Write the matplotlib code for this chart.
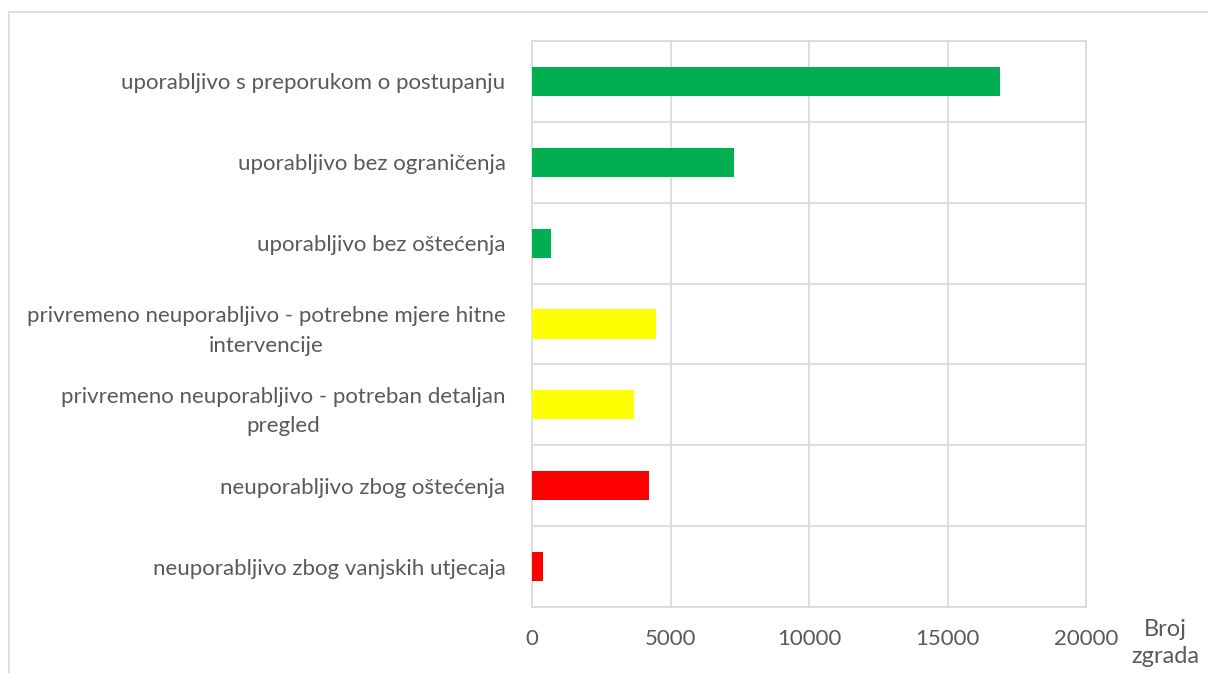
import matplotlib.pyplot as plt
from matplotlib.patches import Rectangle
import numpy as np

plt.rcParams['font.family'] = ['Lato', 'DejaVu Sans']

categories = [
    'uporabljivo s preporukom o postupanju',
    'uporabljivo bez ograničenja',
    'uporabljivo bez oštećenja',
    'privremeno neuporabljivo - potrebne mjere hitne\nintervencije',
    'privremeno neuporabljivo - potreban detaljan\npregled',
    'neuporabljivo zbog oštećenja',
    'neuporabljivo zbog vanjskih utjecaja',
]
values = [16900, 7300, 700, 4480, 3700, 4230, 400]
colors = ['#00B050', '#00B050', '#00B050', '#FFFF00', '#FFFF00', '#FF0000', '#FF0000']
x_ticks = [0, 5000, 10000, 15000, 20000]

fig = plt.figure(figsize=(12.08, 6.73), dpi=100)
ax = fig.add_axes([532 / 1208, 1 - 607 / 673, 554 / 1208, 566 / 673])

y = np.arange(len(categories))
ax.barh(y, values, height=0.36, color=colors, zorder=3)

ax.set_xlim(0, 20000)
ax.set_ylim(len(categories) - 0.5, -0.5)
ax.set_xticks(x_ticks)
ax.set_xticklabels([str(t) for t in x_ticks])
ax.set_yticks(y)
ax.set_yticklabels(categories, multialignment='center', linespacing=1.6)
ax.set_yticks(np.arange(-0.5, len(categories), 1), minor=True)

ax.grid(True, axis='x', which='major', color='#D9D9D9', linewidth=1.2, zorder=0)
ax.grid(True, axis='y', which='minor', color='#D9D9D9', linewidth=1.2, zorder=0)
for s in ax.spines.values():
    s.set_color('#D9D9D9')
    s.set_linewidth(1.2)
ax.tick_params(axis='both', which='both', length=0, labelsize=16, colors='#595959')
ax.tick_params(axis='y', pad=19)
ax.tick_params(axis='x', pad=16)

fig.text(1165 / 1208, 1 - 643 / 673, 'Broj\nzgrada', ha='center', va='center',
         fontsize=17, color='#595959', linespacing=1.4)

fig.patches.append(Rectangle((9 / 1208, -0.1), 1.2, 1 - 12 / 673 + 0.1,
                             transform=fig.transFigure, fill=False,
                             edgecolor='#D9D9D9', linewidth=1.2))

fig.savefig('out.png', dpi=100)
